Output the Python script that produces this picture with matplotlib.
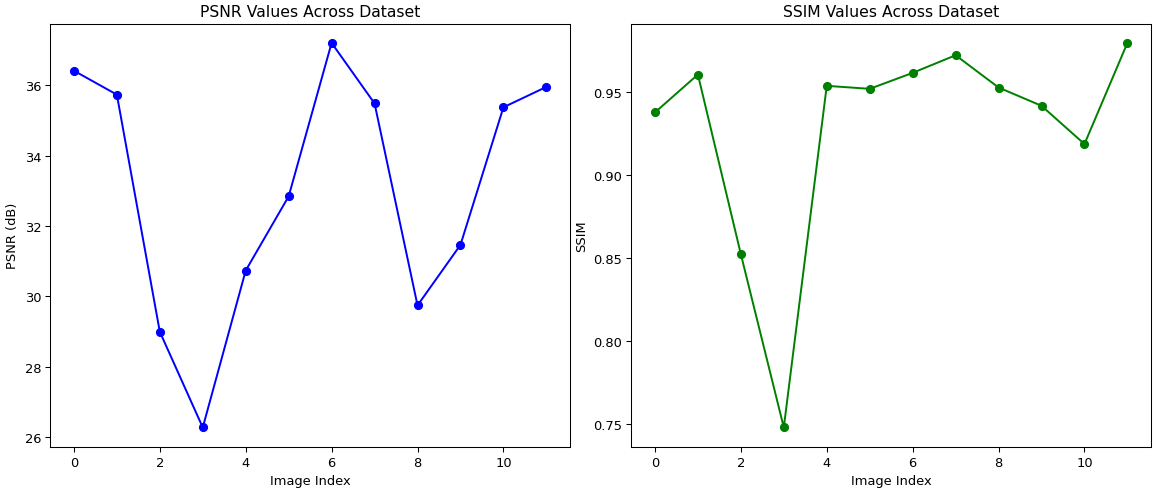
import numpy as np
import matplotlib.pyplot as plt

# Values
image_index = np.arange(12)
psnr_values = [36.41, 35.73, 28.99, 26.27, 30.73, 32.84,
               37.20, 35.48, 29.74, 31.46, 35.37, 35.95]
ssim_values = [0.9376, 0.9604, 0.8524, 0.7482, 0.9536, 0.9518,
               0.9614, 0.9720, 0.9526, 0.9416, 0.9186, 0.9794]


def main():
    dpi = 94  # slightly smaller text, same pixel size
    fig, (ax1, ax2) = plt.subplots(1, 2, figsize=(1156 / dpi, 490 / dpi),
                                   dpi=dpi)

    # PSNR plot
    ax1.plot(image_index, psnr_values, marker='o', color='b')
    ax1.set_title('PSNR Values Across Dataset')
    ax1.set_xlabel('Image Index')
    ax1.set_ylabel('PSNR (dB)')

    # SSIM plot
    ax2.plot(image_index, ssim_values, marker='o', color='g')
    ax2.set_title('SSIM Values Across Dataset')
    ax2.set_xlabel('Image Index')
    ax2.set_ylabel('SSIM')

    fig.subplots_adjust(left=0.0435, right=0.9957, bottom=0.0863, top=0.9496,
                        wspace=0.118)
    fig.savefig('out.png', dpi=dpi)


if __name__ == '__main__':
    main()
